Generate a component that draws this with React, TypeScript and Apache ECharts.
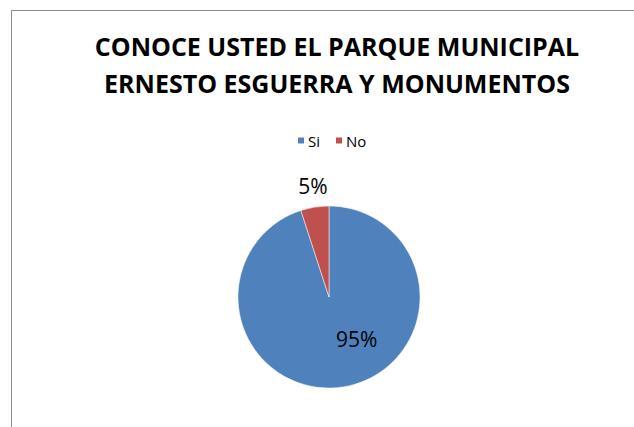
import React, { useEffect, useRef } from "react";
import * as echarts from "echarts";

const categories = ["Si", "No"];
const values = [95, 5];
const colors = ["#4F81BD", "#C0504D"];
const titleText = "CONOCE USTED EL PARQUE MUNICIPAL\nERNESTO ESGUERRA Y MONUMENTOS";

export default function App() {
  const ref = useRef<HTMLDivElement>(null);
  useEffect(() => {
    document.body.style.margin = "0";
    const chart = echarts.init(ref.current!, null, { renderer: "svg" });
    chart.setOption({
      animation: false,
      backgroundColor: "#ffffff",
      graphic: [
        {
          type: "rect",
          shape: { x: 11.5, y: 10.5, width: 700, height: 500 },
          style: { fill: "none", stroke: "#8c8c8c", lineWidth: 1 },
          silent: true,
        },
      ],
      title: {
        text: titleText,
        left: 332,
        textAlign: "center",
        top: 22,
        textStyle: {
          fontFamily: "Open Sans",
          fontWeight: "bold",
          fontSize: 25,
          lineHeight: 37,
          color: "#000",
        },
      },
      legend: {
        data: categories,
        top: 128,
        left: 291,
        itemWidth: 8,
        itemHeight: 8,
        itemGap: 14,
        icon: "rect",
        textStyle: { fontFamily: "Open Sans", fontSize: 15, color: "#000", padding: [0, 0, 0, -2] },
      },
      series: [
        {
          type: "pie",
          center: [329, 297],
          radius: 91,
          startAngle: 90,
          clockwise: true,
          data: categories.map((c, i) => ({
            name: c,
            value: values[i],
            itemStyle: { color: colors[i] },
            label:
              i === 0
                ? { position: "inside", offset: [20, -6] }
                : { position: "outside", distance: 5, offset: [19, -13] },
          })),
          label: {
            formatter: "{d}%",
            fontFamily: "Open Sans",
            fontSize: 21,
            color: "#000",
          },
          labelLine: { show: false, length: 8, length2: 0 },
          itemStyle: { borderColor: "#fff", borderWidth: 0.5 },
        },
      ],
    });
    return () => chart.dispose();
  }, []);
  return <div ref={ref} style={{ width: 634, height: 427 }} />;
}
